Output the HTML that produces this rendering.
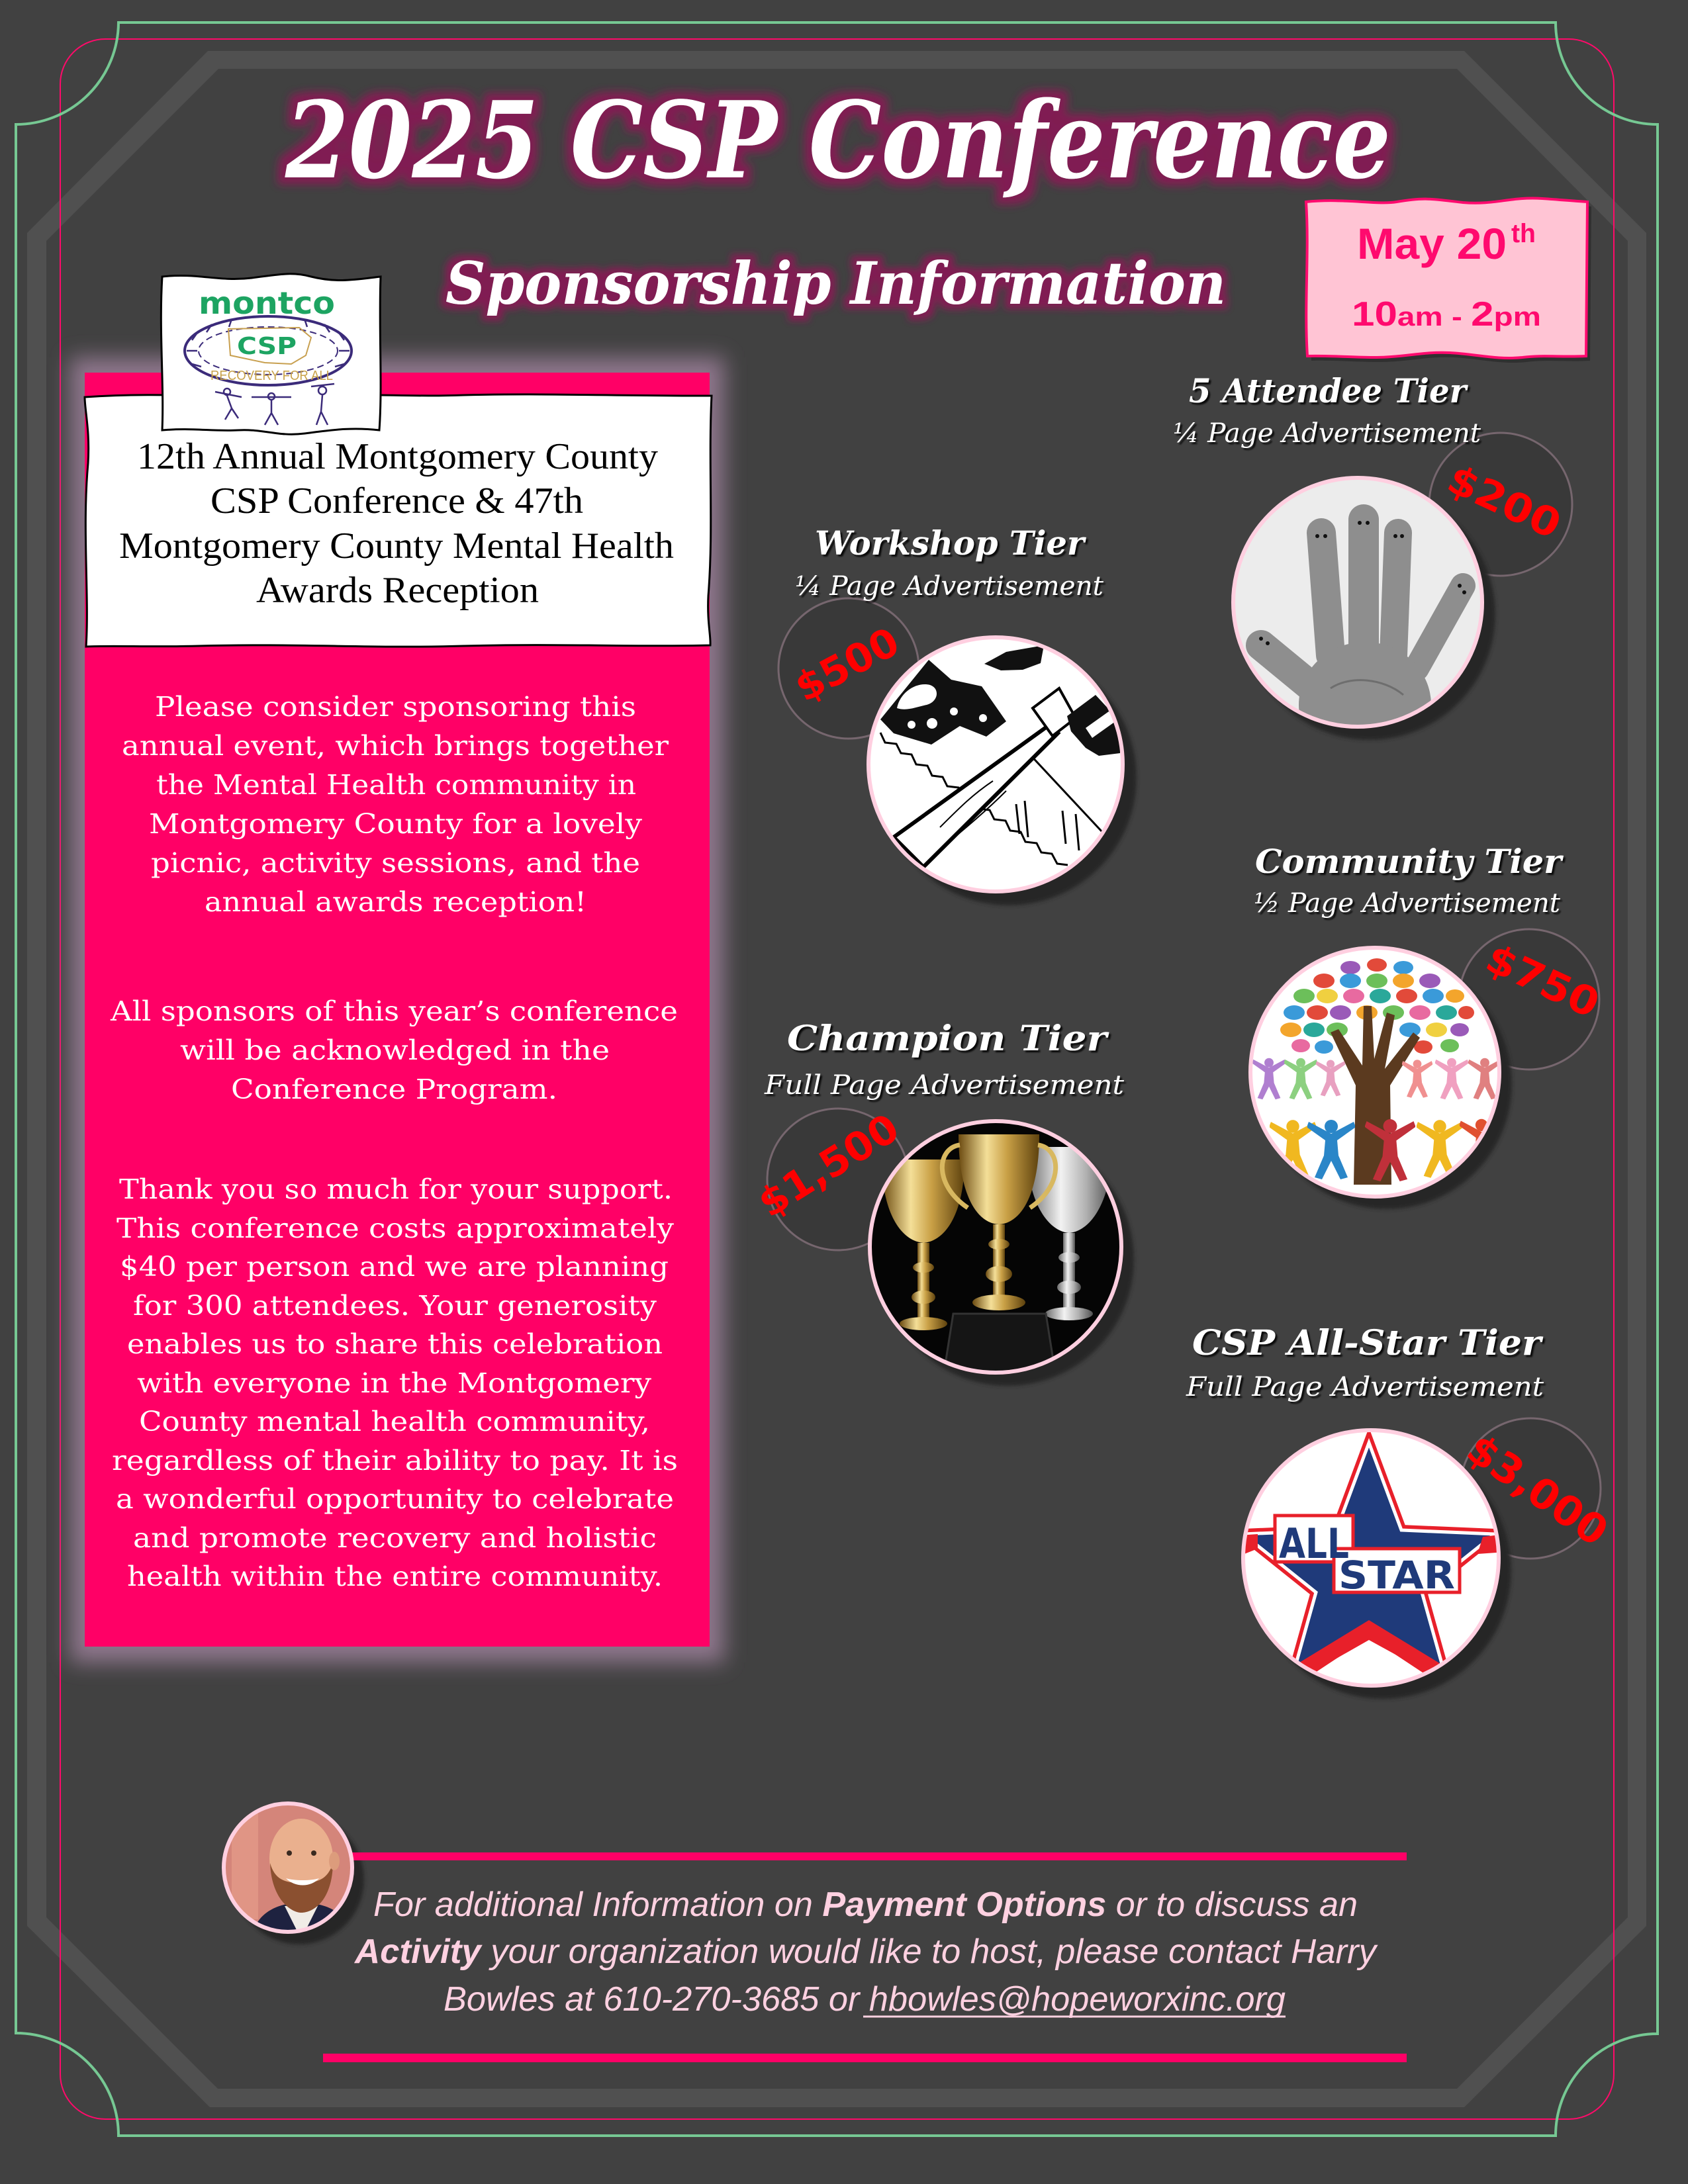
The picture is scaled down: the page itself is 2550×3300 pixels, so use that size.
<!DOCTYPE html>
<html>
<head>
<meta charset="utf-8">
<style>
html,body{margin:0;padding:0;background:#414141;}
svg{display:block;}
</style>
</head>
<body>
<svg xmlns="http://www.w3.org/2000/svg" width="2550" height="3300" viewBox="0 0 2550 3300">
<defs>
  <filter id="glow" x="-5%" y="-40%" width="110%" height="180%">
    <feMorphology in="SourceAlpha" operator="dilate" radius="11" result="d"/>
    <feGaussianBlur in="d" stdDeviation="6" result="b"/>
    <feFlood flood-color="#801f52"/>
    <feComposite in2="b" operator="in" result="g"/>
    <feMerge><feMergeNode in="g"/><feMergeNode in="SourceGraphic"/></feMerge>
  </filter>
  <filter id="glow2" x="-5%" y="-40%" width="110%" height="180%">
    <feMorphology in="SourceAlpha" operator="dilate" radius="8" result="d"/>
    <feGaussianBlur in="d" stdDeviation="5" result="b"/>
    <feFlood flood-color="#801f52"/>
    <feComposite in2="b" operator="in" result="g"/>
    <feMerge><feMergeNode in="g"/><feMergeNode in="SourceGraphic"/></feMerge>
  </filter>
  <filter id="ds" x="-5%" y="-20%" width="110%" height="150%">
    <feDropShadow dx="3" dy="3" stdDeviation="1" flood-color="#000" flood-opacity="0.85"/>
  </filter>
  <filter id="blurbox" x="-20%" y="-10%" width="140%" height="120%">
    <feGaussianBlur stdDeviation="16"/>
  </filter>
  <filter id="sblur" x="-10%" y="-10%" width="120%" height="120%">
    <feGaussianBlur stdDeviation="3"/>
  </filter>
  <linearGradient id="gold" x1="0" y1="0" x2="1" y2="0">
    <stop offset="0" stop-color="#6b4a10"/>
    <stop offset="0.35" stop-color="#f4df98"/>
    <stop offset="0.6" stop-color="#c9a046"/>
    <stop offset="1" stop-color="#5e420e"/>
  </linearGradient>
  <linearGradient id="silver" x1="0" y1="0" x2="1" y2="0">
    <stop offset="0" stop-color="#6a6a6a"/>
    <stop offset="0.4" stop-color="#f2f2f2"/>
    <stop offset="0.7" stop-color="#b0b0b0"/>
    <stop offset="1" stop-color="#505050"/>
  </linearGradient>
  <clipPath id="cHand"><circle cx="2051" cy="910" r="188"/></clipPath>
  <clipPath id="cSaw"><circle cx="1504" cy="1155" r="192"/></clipPath>
  <clipPath id="cTree"><circle cx="2077" cy="1620" r="188"/></clipPath>
  <clipPath id="cTroph"><circle cx="1504" cy="1884" r="190"/></clipPath>
  <clipPath id="cStar"><circle cx="2071" cy="2354" r="193"/></clipPath>
  <clipPath id="cMan"><circle cx="435" cy="2822" r="97"/></clipPath>
  <symbol id="fig" viewBox="0 0 72 92">
    <circle cx="36" cy="11" r="10"/>
    <path d="M36,22 L70,4 L73,12 L45,32 L47,55 L61,88 L50,91 L36,63 L22,91 L11,88 L25,55 L27,32 L-1,12 L2,4 Z"/>
  </symbol>
</defs>

<!-- background -->
<rect x="0" y="0" width="2550" height="3300" fill="#414141"/>

<!-- octagon band -->
<path fill="#505050" fill-rule="evenodd" d="M314,77 L2212,77 L2487,352 L2487,2910 L2212,3184 L317,3184 L41,2910 L41,352 Z M330,104 L2201,104 L2459,364 L2459,2897 L2201,3156 L329,3156 L70,2897 L70,364 Z"/>

<!-- pink frame -->
<rect x="91" y="59" width="2347" height="3143" rx="68" ry="68" fill="none" stroke="#ff0a6a" stroke-width="2"/>

<!-- green frame -->
<path fill="none" stroke="#76c893" stroke-width="4" d="M179,34 L2350,34 A154,154 0 0 0 2504,188 L2504,3073 A154,154 0 0 0 2350,3227 L179,3227 A155,155 0 0 0 24,3072 L24,188 A155,155 0 0 0 179,34 Z"/>

<!-- Title -->
<text x="431" y="268" font-family="'DejaVu Serif', 'Liberation Serif', serif" font-weight="bold" font-style="italic" font-size="160" fill="#ffffff" textLength="1670" lengthAdjust="spacingAndGlyphs" filter="url(#glow)">2025 CSP Conference</text>
<text x="673" y="459" font-family="'DejaVu Serif', 'Liberation Serif', serif" font-weight="bold" font-style="italic" font-size="88" fill="#ffffff" textLength="1179" lengthAdjust="spacingAndGlyphs" filter="url(#glow2)">Sponsorship Information</text>

<!-- Date box -->
<path d="M1979,312 C2036,306 2086,317 2116,312 C2156,305 2166,307 2216,313 C2266,317 2286,304 2336,307 C2366,309 2386,311 2404,312 L2402,545 C2366,547 2336,543 2306,547 C2266,551 2236,542 2196,540 C2156,538 2126,547 2086,547 C2046,547 2016,544 1981,545 C1976,467 1984,387 1979,312 Z" fill="#2c2c2c" opacity="0.8"/>
<path d="M1973,305 C2030,299 2080,310 2110,305 C2150,298 2160,300 2210,306 C2260,310 2280,297 2330,300 C2360,302 2380,304 2398,305 L2396,538 C2360,540 2330,536 2300,540 C2260,544 2230,535 2190,533 C2150,531 2120,540 2080,540 C2040,540 2010,537 1975,538 C1970,460 1978,380 1973,305 Z" fill="#ffc4d4" stroke="#ff0a6e" stroke-width="4"/>
<text x="2050" y="391" font-family="'Liberation Sans', sans-serif" font-weight="bold" font-size="66" fill="#ff0a6e" textLength="226" lengthAdjust="spacingAndGlyphs">May 20</text>
<text x="2283" y="366" font-family="'Liberation Sans', sans-serif" font-weight="bold" font-size="40" fill="#ff0a6e" textLength="37" lengthAdjust="spacingAndGlyphs">th</text>
<text x="2042" y="492" font-family="'Liberation Sans', sans-serif" font-weight="bold" fill="#ff0a6e" textLength="286" lengthAdjust="spacingAndGlyphs"><tspan font-size="52">10</tspan><tspan font-size="40">am - </tspan><tspan font-size="52">2</tspan><tspan font-size="40">pm</tspan></text>

<!-- Left pink box glow & box -->
<rect x="106" y="540" width="988" height="1972" fill="#8e768c" filter="url(#blurbox)"/>
<rect x="128" y="563" width="944" height="1925" fill="#ff0066"/>

<!-- White banner -->
<path d="M128,600 C250,592 330,602 450,598 C560,594 620,600 700,597 C820,594 900,598 1075,598 C1070,700 1078,800 1070,900 C1068,940 1074,960 1073,975 C950,978 850,972 700,976 C560,980 450,972 300,976 C230,978 170,975 130,977 C135,900 124,800 133,700 C136,650 128,620 128,600 Z" fill="#ffffff" stroke="#000" stroke-width="3"/>
<g font-family="'Liberation Serif', serif" font-size="56" fill="#000">
  <text x="207" y="708" textLength="787" lengthAdjust="spacingAndGlyphs">12th Annual Montgomery County</text>
  <text x="318" y="775" textLength="563" lengthAdjust="spacingAndGlyphs">CSP Conference &amp; 47th</text>
  <text x="180" y="843" textLength="838" lengthAdjust="spacingAndGlyphs">Montgomery County Mental Health</text>
  <text x="387" y="910" textLength="427" lengthAdjust="spacingAndGlyphs">Awards Reception</text>
</g>

<!-- Logo -->
<path d="M245,418 C300,412 330,426 380,420 C420,415 440,410 470,418 C510,428 540,422 575,418 C572,500 578,580 573,650 C530,645 500,650 460,655 C420,660 400,648 360,650 C320,652 290,646 245,650 C248,580 240,500 245,418 Z" fill="#ffffff" stroke="#000" stroke-width="3"/>
<text x="300" y="474" font-family="'DejaVu Sans', sans-serif" font-weight="bold" font-size="46" fill="#1da462" textLength="206" lengthAdjust="spacingAndGlyphs">montco</text>
<ellipse cx="405" cy="530" rx="126" ry="52" fill="none" stroke="#3b2b7a" stroke-width="4"/>
<ellipse cx="405" cy="530" rx="105" ry="36" fill="none" stroke="#3b2b7a" stroke-width="2" stroke-dasharray="10 6"/>
<g stroke="#3b2b7a" stroke-width="2.5">
  <line x1="300" y1="500" x2="290" y2="514"/><line x1="320" y1="490" x2="312" y2="502"/>
  <line x1="350" y1="482" x2="346" y2="494"/><line x1="460" y1="482" x2="464" y2="494"/>
  <line x1="490" y1="490" x2="498" y2="502"/><line x1="510" y1="500" x2="520" y2="514"/>
  <line x1="282" y1="530" x2="298" y2="530"/><line x1="512" y1="530" x2="528" y2="530"/>
  <line x1="290" y1="550" x2="304" y2="554"/><line x1="506" y1="554" x2="520" y2="550"/>
</g>
<path d="M345,497 L452,495 L470,510 L462,537 L440,550 L400,548 L348,537 Z" fill="none" stroke="#c8a050" stroke-width="2"/>
<text x="358" y="535" font-family="'DejaVu Sans', sans-serif" font-weight="bold" font-size="36" fill="#1da462" textLength="90" lengthAdjust="spacingAndGlyphs">CSP</text>
<text x="318" y="574" font-family="'Liberation Sans', sans-serif" font-size="20" fill="#c8a24a" textLength="185" lengthAdjust="spacingAndGlyphs">RECOVERY FOR ALL</text>
<g fill="none" stroke="#3b2b7a" stroke-width="2.5">
  <circle cx="343" cy="592" r="5"/><path d="M343,598 L350,617 L340,634 M350,617 L360,632 M325,592 L365,600"/>
  <circle cx="410" cy="599" r="5"/><path d="M410,605 L410,624 L400,642 M410,624 L420,642 M380,600 L440,600"/>
  <circle cx="487" cy="590" r="6"/><path d="M487,597 L485,622 L478,642 M485,622 L495,642 M470,584 L505,580"/>
</g>

<!-- Body text -->
<g font-family="'DejaVu Serif', 'Liberation Serif', serif" font-size="41" fill="#ffffff">
  <text x="234" y="1082" textLength="727" lengthAdjust="spacingAndGlyphs">Please consider sponsoring this</text>
  <text x="184" y="1141" textLength="826" lengthAdjust="spacingAndGlyphs">annual event, which brings together</text>
  <text x="236" y="1200" textLength="725" lengthAdjust="spacingAndGlyphs">the Mental Health community in</text>
  <text x="225" y="1259" textLength="745" lengthAdjust="spacingAndGlyphs">Montgomery County for a lovely</text>
  <text x="228" y="1318" textLength="739" lengthAdjust="spacingAndGlyphs">picnic, activity sessions, and the</text>
  <text x="309" y="1377" textLength="577" lengthAdjust="spacingAndGlyphs">annual awards reception!</text>
  <text x="167" y="1542" textLength="857" lengthAdjust="spacingAndGlyphs">All sponsors of this year’s conference</text>
  <text x="272" y="1601" textLength="649" lengthAdjust="spacingAndGlyphs">will be acknowledged in the</text>
  <text x="349" y="1660" textLength="493" lengthAdjust="spacingAndGlyphs">Conference Program.</text>
  <text x="180" y="1811" textLength="836" lengthAdjust="spacingAndGlyphs">Thank you so much for your support.</text>
  <text x="176" y="1870" textLength="842" lengthAdjust="spacingAndGlyphs">This conference costs approximately</text>
  <text x="181" y="1928" textLength="829" lengthAdjust="spacingAndGlyphs">$40 per person and we are planning</text>
  <text x="201" y="1987" textLength="791" lengthAdjust="spacingAndGlyphs">for 300 attendees. Your generosity</text>
  <text x="192" y="2045" textLength="809" lengthAdjust="spacingAndGlyphs">enables us to share this celebration</text>
  <text x="207" y="2104" textLength="777" lengthAdjust="spacingAndGlyphs">with everyone in the Montgomery</text>
  <text x="210" y="2162" textLength="772" lengthAdjust="spacingAndGlyphs">County mental health community,</text>
  <text x="169" y="2221" textLength="855" lengthAdjust="spacingAndGlyphs">regardless of their ability to pay.  It is</text>
  <text x="175" y="2279" textLength="843" lengthAdjust="spacingAndGlyphs">a wonderful opportunity to celebrate</text>
  <text x="201" y="2338" textLength="791" lengthAdjust="spacingAndGlyphs">and promote recovery and holistic</text>
  <text x="192" y="2396" textLength="809" lengthAdjust="spacingAndGlyphs">health within the entire community.</text>
</g>

<!-- Price circles (behind headings) -->
<g fill="#393939" stroke="#76666e" stroke-width="3">
  <circle cx="2267" cy="762" r="108"/>
  <circle cx="1282" cy="1010" r="106"/>
  <circle cx="2310" cy="1510" r="106"/>
  <circle cx="1266" cy="1782" r="107"/>
  <circle cx="2312" cy="2249" r="106"/>
</g>

<!-- Tier headings -->
<g font-family="'DejaVu Serif', 'Liberation Serif', serif" fill="#ffffff" filter="url(#ds)">
  <text x="1796" y="608" font-size="50" font-weight="bold" font-style="italic" textLength="419" lengthAdjust="spacingAndGlyphs">5 Attendee Tier</text>
  <text x="1772" y="668" font-size="40" font-style="italic" textLength="465" lengthAdjust="spacingAndGlyphs">¼ Page Advertisement</text>
  <text x="1231" y="838" font-size="50" font-weight="bold" font-style="italic" textLength="407" lengthAdjust="spacingAndGlyphs">Workshop Tier</text>
  <text x="1201" y="899" font-size="40" font-style="italic" textLength="466" lengthAdjust="spacingAndGlyphs">¼ Page Advertisement</text>
  <text x="1896" y="1319" font-size="50" font-weight="bold" font-style="italic" textLength="463" lengthAdjust="spacingAndGlyphs">Community Tier</text>
  <text x="1894" y="1378" font-size="40" font-style="italic" textLength="463" lengthAdjust="spacingAndGlyphs">½ Page Advertisement</text>
  <text x="1189" y="1587" font-size="52" font-weight="bold" font-style="italic" textLength="483" lengthAdjust="spacingAndGlyphs">Champion Tier</text>
  <text x="1155" y="1653" font-size="40" font-style="italic" textLength="543" lengthAdjust="spacingAndGlyphs">Full Page Advertisement</text>
  <text x="1801" y="2047" font-size="52" font-weight="bold" font-style="italic" textLength="527" lengthAdjust="spacingAndGlyphs">CSP All-Star Tier</text>
  <text x="1792" y="2109" font-size="40" font-style="italic" textLength="540" lengthAdjust="spacingAndGlyphs">Full Page Advertisement</text>
</g>

<!-- Photo shadows -->
<g fill="#262626" filter="url(#sblur)">
  <circle cx="2069" cy="928" r="190"/>
  <circle cx="1524" cy="1175" r="193"/>
  <circle cx="2095" cy="1638" r="189"/>
  <circle cx="1522" cy="1903" r="191"/>
  <circle cx="2089" cy="2373" r="194"/>
  <circle cx="452" cy="2840" r="98"/>
</g>

<!-- Hand photo -->
<g clip-path="url(#cHand)">
  <rect x="1860" y="720" width="400" height="380" fill="#ececec"/>
  <g stroke="#8e8e8e" stroke-linecap="round" fill="none">
    <line x1="1990" y1="1045" x2="1905" y2="975" stroke-width="46"/>
    <line x1="2010" y1="990" x2="1996" y2="805" stroke-width="44"/>
    <line x1="2060" y1="990" x2="2060" y2="785" stroke-width="46"/>
    <line x1="2105" y1="990" x2="2112" y2="805" stroke-width="42"/>
    <line x1="2140" y1="1010" x2="2210" y2="885" stroke-width="38"/>
  </g>
  <ellipse cx="2062" cy="1065" rx="100" ry="95" fill="#8e8e8e"/>
  <path d="M2010,1040 C2040,1020 2090,1025 2120,1050" stroke="#6e6e6e" stroke-width="3" fill="none"/>
  <g fill="#111">
    <circle cx="1990" cy="810" r="3"/><circle cx="2002" cy="810" r="3"/>
    <circle cx="2054" cy="790" r="3"/><circle cx="2066" cy="790" r="3"/>
    <circle cx="2108" cy="810" r="3"/><circle cx="2118" cy="810" r="3"/>
    <circle cx="2205" cy="885" r="3"/><circle cx="2212" cy="895" r="3"/>
    <circle cx="1905" cy="965" r="3"/><circle cx="1915" cy="972" r="3"/>
  </g>
</g>
<circle cx="2051" cy="910" r="188" fill="none" stroke="#ffcfe0" stroke-width="6"/>

<!-- Saw & hammer photo -->
<g clip-path="url(#cSaw)">
  <rect x="1300" y="960" width="410" height="390" fill="#ffffff"/>
  <polyline fill="none" stroke="#000" stroke-width="3" points="1330,1107 1337,1122 1354,1124 1361,1138 1377,1140 1384,1155 1401,1157 1408,1172 1424,1174 1431,1188 1448,1190 1455,1205 1471,1207 1479,1222 1495,1224 1502,1238 1519,1240 1526,1255 1542,1257 1549,1272 1566,1274 1573,1288 1589,1290 1597,1305 1613,1307"/>
  <line x1="1553" y1="1137" x2="1665" y2="1257" stroke="#000" stroke-width="3"/>
  <path d="M1330,1087 L1403,997 L1437,1027 L1483,1037 L1520,1090 L1490,1113 L1450,1097 L1407,1125 L1350,1108 Z" fill="#111"/>
  <path d="M1355,1070 C1360,1045 1385,1030 1405,1035 C1420,1040 1418,1060 1400,1065 C1385,1068 1370,1075 1355,1070 Z" fill="#fff"/>
  <circle cx="1377" cy="1095" r="6" fill="#fff"/><circle cx="1408" cy="1093" r="8" fill="#fff"/>
  <circle cx="1441" cy="1075" r="6" fill="#fff"/><circle cx="1485" cy="1085" r="6" fill="#fff"/>
  <path d="M1350,1265 L1583,1097 L1598,1108 L1395,1310 Z" fill="#fff" stroke="#000" stroke-width="6"/>
  <path d="M1420,1250 C1450,1220 1470,1200 1500,1180 M1430,1275 C1460,1250 1490,1225 1520,1195" stroke="#000" stroke-width="2" fill="none"/>
  <path d="M1487,1003 L1520,985 L1577,975 L1572,1002 L1545,1012 L1512,1013 Z" fill="#111"/>
  <path d="M1560,1070 L1600,1040 L1625,1085 L1590,1112 Z" fill="#fff" stroke="#000" stroke-width="4"/>
  <path d="M1612,1082 L1655,1050 L1692,1090 L1692,1138 L1660,1142 L1640,1130 L1618,1105 Z" fill="#111"/>
  <path d="M1640,1100 L1675,1075 L1685,1090 L1650,1115 Z" fill="#fff"/>
  <path d="M1535,1215 L1540,1260 M1548,1210 L1553,1265 M1605,1225 L1610,1275 M1625,1230 L1630,1285" stroke="#000" stroke-width="3"/>
</g>
<circle cx="1504" cy="1155" r="192" fill="none" stroke="#ffcfe0" stroke-width="6"/>

<!-- Tree photo -->
<g clip-path="url(#cTree)">
  <rect x="1885" y="1430" width="385" height="380" fill="#ffffff"/>
  <g>
    <ellipse cx="2040" cy="1462" rx="15" ry="10" fill="#9a5ab8"/><ellipse cx="2080" cy="1458" rx="15" ry="10" fill="#e24a3a"/><ellipse cx="2120" cy="1462" rx="15" ry="10" fill="#3a9ad9"/>
    <ellipse cx="2000" cy="1482" rx="16" ry="11" fill="#e24a3a"/><ellipse cx="2040" cy="1482" rx="16" ry="11" fill="#3a9ad9"/><ellipse cx="2080" cy="1482" rx="16" ry="11" fill="#6cbf5a"/><ellipse cx="2120" cy="1482" rx="16" ry="11" fill="#f3a52c"/><ellipse cx="2160" cy="1482" rx="16" ry="11" fill="#9a5ab8"/>
    <ellipse cx="1970" cy="1505" rx="16" ry="11" fill="#6cbf5a"/><ellipse cx="2005" cy="1505" rx="16" ry="11" fill="#f0d040"/><ellipse cx="2045" cy="1505" rx="16" ry="11" fill="#e86aa0"/><ellipse cx="2085" cy="1505" rx="16" ry="11" fill="#2aa89a"/><ellipse cx="2125" cy="1505" rx="16" ry="11" fill="#e24a3a"/><ellipse cx="2165" cy="1505" rx="16" ry="11" fill="#3a9ad9"/><ellipse cx="2198" cy="1505" rx="14" ry="10" fill="#f3a52c"/>
    <ellipse cx="1955" cy="1530" rx="16" ry="11" fill="#3a9ad9"/><ellipse cx="1990" cy="1530" rx="16" ry="11" fill="#e24a3a"/><ellipse cx="2025" cy="1530" rx="16" ry="11" fill="#9a5ab8"/><ellipse cx="2065" cy="1530" rx="16" ry="11" fill="#f3a52c"/><ellipse cx="2105" cy="1530" rx="16" ry="11" fill="#6cbf5a"/><ellipse cx="2145" cy="1530" rx="16" ry="11" fill="#e86aa0"/><ellipse cx="2185" cy="1530" rx="16" ry="11" fill="#2aa89a"/><ellipse cx="2215" cy="1530" rx="12" ry="10" fill="#e24a3a"/>
    <ellipse cx="1950" cy="1556" rx="16" ry="11" fill="#f3a52c"/><ellipse cx="1985" cy="1556" rx="16" ry="11" fill="#2aa89a"/><ellipse cx="2020" cy="1556" rx="16" ry="11" fill="#6cbf5a"/><ellipse cx="2130" cy="1556" rx="16" ry="11" fill="#3a9ad9"/><ellipse cx="2170" cy="1556" rx="16" ry="11" fill="#f0d040"/><ellipse cx="2205" cy="1556" rx="14" ry="10" fill="#9a5ab8"/>
    <ellipse cx="1965" cy="1580" rx="14" ry="10" fill="#e86aa0"/><ellipse cx="2000" cy="1582" rx="14" ry="10" fill="#3a9ad9"/><ellipse cx="2150" cy="1582" rx="14" ry="10" fill="#e24a3a"/><ellipse cx="2190" cy="1580" rx="14" ry="10" fill="#6cbf5a"/>
  </g>
  <path d="M2045,1790 L2048,1640 L2010,1560 L2022,1555 L2058,1610 L2060,1520 L2072,1520 L2076,1600 L2095,1530 L2107,1534 L2092,1615 L2135,1560 L2145,1568 L2100,1640 L2102,1790 Z" fill="#5b3a1f"/>
  <use href="#fig" x="1892" y="1598" width="50" height="64" fill="#b07fd0"/>
  <use href="#fig" x="1940" y="1598" width="50" height="64" fill="#8cd080"/>
  <use href="#fig" x="1988" y="1600" width="44" height="58" fill="#e8a0c0"/>
  <use href="#fig" x="2118" y="1600" width="46" height="60" fill="#f09090"/>
  <use href="#fig" x="2168" y="1598" width="50" height="64" fill="#f0a0c0"/>
  <use href="#fig" x="2218" y="1598" width="50" height="64" fill="#e08080"/>
  <use href="#fig" x="1918" y="1690" width="70" height="92" fill="#f0b820"/>
  <use href="#fig" x="1975" y="1690" width="72" height="94" fill="#2a86c8"/>
  <use href="#fig" x="2062" y="1690" width="76" height="96" fill="#c0303a"/>
  <use href="#fig" x="2140" y="1690" width="70" height="92" fill="#f0b820"/>
  <use href="#fig" x="2205" y="1688" width="66" height="88" fill="#e05030"/>
</g>
<circle cx="2077" cy="1620" r="188" fill="none" stroke="#ffcfe0" stroke-width="6"/>

<!-- Trophy photo -->
<g clip-path="url(#cTroph)">
  <rect x="1300" y="1680" width="410" height="410" fill="#050505"/>
  <path d="M1332,1752 L1457,1752 C1457,1830 1430,1875 1395,1878 C1360,1875 1332,1830 1332,1752 Z" fill="url(#gold)"/>
  <rect x="1386" y="1878" width="18" height="120" fill="url(#gold)"/>
  <ellipse cx="1395" cy="1915" rx="16" ry="8" fill="url(#gold)"/>
  <ellipse cx="1395" cy="1960" rx="18" ry="10" fill="url(#gold)"/>
  <ellipse cx="1395" cy="2000" rx="36" ry="10" fill="url(#gold)"/>
  <path d="M1551,1733 L1680,1733 C1680,1810 1650,1860 1615,1863 C1580,1860 1551,1810 1551,1733 Z" fill="url(#silver)"/>
  <rect x="1606" y="1863" width="18" height="120" fill="url(#silver)"/>
  <ellipse cx="1615" cy="1900" rx="16" ry="8" fill="url(#silver)"/>
  <ellipse cx="1615" cy="1945" rx="18" ry="10" fill="url(#silver)"/>
  <ellipse cx="1615" cy="1985" rx="36" ry="10" fill="url(#silver)"/>
  <path d="M1448,1714 L1570,1714 C1570,1800 1545,1848 1509,1850 C1473,1848 1448,1800 1448,1714 Z" fill="url(#gold)"/>
  <path d="M1450,1730 C1415,1735 1410,1790 1462,1825 M1568,1730 C1603,1735 1608,1790 1556,1825" fill="none" stroke="#d8b860" stroke-width="7"/>
  <rect x="1500" y="1850" width="18" height="120" fill="url(#gold)"/>
  <ellipse cx="1509" cy="1880" rx="16" ry="8" fill="url(#gold)"/>
  <ellipse cx="1509" cy="1925" rx="20" ry="12" fill="url(#gold)"/>
  <ellipse cx="1509" cy="1968" rx="40" ry="12" fill="url(#gold)"/>
  <path d="M1440,1985 L1580,1985 L1595,2080 L1425,2080 Z" fill="#151515" stroke="#333" stroke-width="3"/>
</g>
<circle cx="1504" cy="1884" r="190" fill="none" stroke="#ffcfe0" stroke-width="6"/>

<!-- All Star photo -->
<g clip-path="url(#cStar)">
  <rect x="1870" y="2155" width="410" height="400" fill="#ffffff"/>
  <polygon points="2068,2180 2117,2312 2258,2318 2148,2406 2186,2542 2068,2464 1950,2542 1988,2406 1878,2318 2019,2312" fill="#1f3a7a" stroke="#e8202a" stroke-width="16" stroke-linejoin="miter"/>
  <polygon points="2068,2180 2117,2312 2258,2318 2148,2406 2186,2542 2068,2464 1950,2542 1988,2406 1878,2318 2019,2312" fill="#1f3a7a" stroke="#ffffff" stroke-width="5"/>
  <path d="M1870,2320 L1900,2318 L1900,2340 L1870,2352 Z" fill="#e8202a"/>
  <path d="M2240,2322 L2275,2318 L2275,2345 L2232,2348 Z" fill="#e8202a"/>
  <path d="M1950,2520 L2068,2448 L2186,2520 L2190,2545 L2068,2478 L1945,2548 Z" fill="#e8202a"/>
  <rect x="1926" y="2290" width="118" height="70" fill="#ffffff" stroke="#e8202a" stroke-width="5"/>
  <rect x="2015" y="2340" width="190" height="66" fill="#ffffff" stroke="#e8202a" stroke-width="5"/>
  <text x="1932" y="2354" font-family="'DejaVu Sans', sans-serif" font-weight="bold" font-size="62" fill="#1f3a7a" textLength="106" lengthAdjust="spacingAndGlyphs">ALL</text>
  <text x="2022" y="2400" font-family="'DejaVu Sans', sans-serif" font-weight="bold" font-size="58" fill="#1f3a7a" textLength="176" lengthAdjust="spacingAndGlyphs">STAR</text>
</g>
<circle cx="2071" cy="2354" r="193" fill="none" stroke="#ffcfe0" stroke-width="6"/>

<!-- Price labels -->
<g font-family="'DejaVu Sans', sans-serif" font-weight="bold" fill="#ff0000" text-anchor="middle">
  <text transform="translate(2273,757) rotate(25)" x="0" y="22" font-size="60" textLength="180" lengthAdjust="spacingAndGlyphs">$200</text>
  <text transform="translate(1279,1003) rotate(-28)" x="0" y="22" font-size="60" textLength="167" lengthAdjust="spacingAndGlyphs">$500</text>
  <text transform="translate(2331,1481) rotate(25)" x="0" y="22" font-size="60" textLength="180" lengthAdjust="spacingAndGlyphs">$750</text>
  <text transform="translate(1251,1760) rotate(-32)" x="0" y="22" font-size="60" textLength="236" lengthAdjust="spacingAndGlyphs">$1,500</text>
  <text transform="translate(2323,2251) rotate(35)" x="0" y="22" font-size="62" textLength="242" lengthAdjust="spacingAndGlyphs">$3,000</text>
</g>

<!-- Bottom section -->
<rect x="532" y="2799" width="1593" height="12" fill="#ff0066"/>
<rect x="488" y="3103" width="1637" height="13" fill="#ff0066"/>

<g clip-path="url(#cMan)">
  <rect x="330" y="2720" width="210" height="210" fill="#d4857a"/>
  <rect x="350" y="2740" width="40" height="160" fill="#e7a08c" opacity="0.6"/>
  <path d="M380,2930 C385,2890 420,2875 455,2875 C495,2875 525,2890 535,2930 Z" fill="#1e2240"/>
  <path d="M430,2880 L455,2930 L480,2880 Z" fill="#f0ece6"/>
  <ellipse cx="455" cy="2808" rx="48" ry="60" fill="#eab08e"/>
  <path d="M408,2815 C410,2870 440,2890 455,2890 C475,2890 502,2870 503,2815 C495,2840 480,2845 455,2845 C430,2845 415,2840 408,2815 Z" fill="#8b5030"/>
  <path d="M432,2838 C445,2852 470,2852 482,2838 C470,2842 445,2842 432,2838 Z" fill="#ffffff"/>
  <circle cx="437" cy="2800" r="4" fill="#3a2a20"/><circle cx="474" cy="2800" r="4" fill="#3a2a20"/>
  <ellipse cx="505" cy="2812" rx="8" ry="14" fill="#dc9c7c"/>
</g>
<circle cx="435" cy="2822" r="97" fill="none" stroke="#ffcfe0" stroke-width="6"/>

<g font-family="'Liberation Sans', sans-serif" font-style="italic" font-size="52" fill="#ffd1e1">
  <text x="564" y="2895" textLength="1487" lengthAdjust="spacingAndGlyphs">For additional Information on <tspan font-weight="bold">Payment Options</tspan> or to discuss an</text>
  <text x="536" y="2966" textLength="1543" lengthAdjust="spacingAndGlyphs"><tspan font-weight="bold">Activity</tspan> your organization would like to host, please contact Harry</text>
  <text x="670" y="3038" textLength="1272" lengthAdjust="spacingAndGlyphs">Bowles at 610-270-3685 or hbowles@hopeworxinc.org</text>
</g>
<line x1="1304" y1="3047" x2="1942" y2="3047" stroke="#ffd1e1" stroke-width="3"/>

</svg>
</body>
</html>
